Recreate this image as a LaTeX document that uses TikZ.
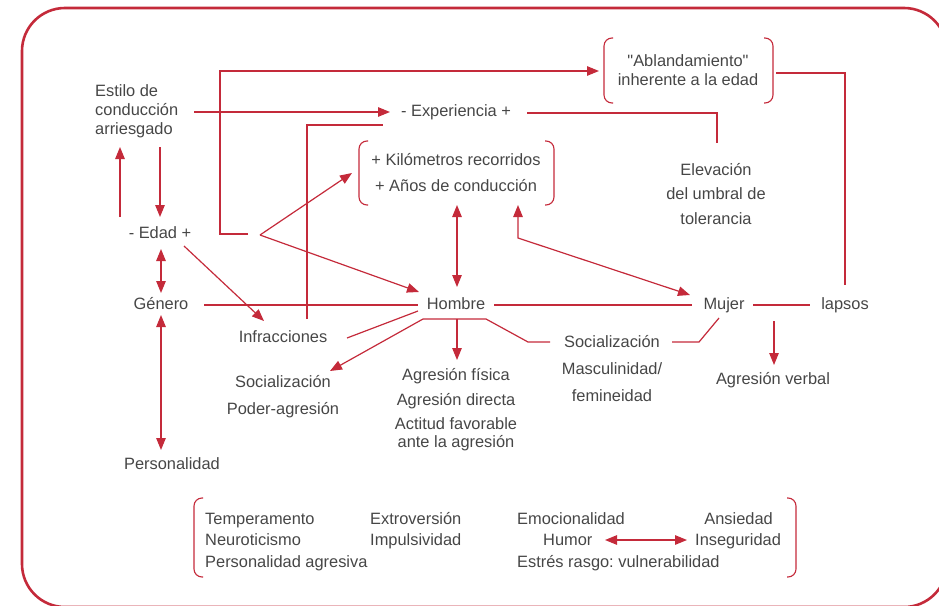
\documentclass[tikz,border=0pt]{standalone}
\usepackage{fontspec}
\setmainfont{Liberation Sans}[Ligatures=TeXOff]
\usetikzlibrary{arrows.meta}
\definecolor{frred}{RGB}{196,42,58}
\definecolor{txt}{RGB}{70,70,70}
\frenchspacing
\begin{document}
\begin{tikzpicture}[x=1pt,y=-1pt,
  lbl/.style={text=txt,font=\fontsize{16.4}{19}\selectfont,inner sep=0pt,align=center},
  one/.style={lbl,text height=12pt,text depth=1.5pt},
  conn/.style={draw=frred,line width=1.2pt},
  arr/.style={conn,-{Triangle[length=12pt,width=9.5pt]}},
  darr/.style={conn,{Triangle[length=12pt,width=9.5pt]}-{Triangle[length=12pt,width=9.5pt]}},
  brk/.style={draw=frred,line width=1.1pt,rounded corners=8pt},
  frame/.style={draw=frred,line width=2.6pt,rounded corners=43pt}]
\useasboundingbox (0,0) rectangle (939,605);
\draw[frame] (22,8) rectangle (947,607);

% ---------- nodes ----------
\node[lbl,anchor=west,align=left] (estilo) at (95,111) {Estilo de\\conducción\\arriesgado};
\node[one] (edad) at (160,233) {- Edad +};
\node[one] (genero) at (161,304) {Género};
\node[one] (personalidad) at (172,464) {Personalidad};
\node[one] (infracciones) at (283,337) {Infracciones};
\node[lbl,font=\fontsize{16.4}{27}\selectfont] (soc1) at (283,397) {Socialización\\Poder-agresión};
\node[one] (hombre) at (456,304) {Hombre};
\node[lbl,font=\fontsize{16.4}{24.5}\selectfont] (agres) at (456,410) {Agresión física\\Agresión directa\\Actitud favorable\\[-6.5pt]ante la agresión};
\node[lbl,font=\fontsize{16.4}{27}\selectfont] (soc2) at (612,369) {Socialización\\Masculinidad/\\femineidad};
\node[one] (mujer) at (724,304) {Mujer};
\node[one] (lapsos) at (845,304) {lapsos};
\node[one] (verbal) at (773,379) {Agresión verbal};
\node[one] (exper) at (456,111) {- Experiencia +};
\node[lbl,font=\fontsize{16.4}{26}\selectfont] (km) at (456,173) {+ Kilómetros recorridos\\+ Años de conducción};
\node[lbl] (abland) at (688,70) {"Ablandamiento"\\inherente a la edad};
\node[lbl,font=\fontsize{16.4}{24.5}\selectfont] (elev) at (716,194) {Elevación\\del umbral de\\tolerancia};

\node[one,anchor=west] (temp) at (205,519) {Temperamento};
\node[one,anchor=west] (extro) at (370,519) {Extroversión};
\node[one,anchor=west] (emoc) at (517,519) {Emocionalidad};
\node[one,anchor=east] (ansie) at (773,519) {Ansiedad};
\node[one,anchor=west] (neuro) at (205,540) {Neuroticismo};
\node[one,anchor=west] (impul) at (370,540) {Impulsividad};
\node[one,anchor=west] (humor) at (543,540) {Humor};
\node[one,anchor=west] (insegu) at (695,540) {Inseguridad};
\node[one,anchor=west] (persag) at (205,562) {Personalidad agresiva};
\node[one,anchor=west] (estres) at (517,562) {Estrés rasgo: vulnerabilidad};

% ---------- connector end points ----------
\coordinate (estiloS1) at (160,147);  \coordinate (edadN1) at (160,217);
\coordinate (edadN2) at (120,217);    \coordinate (estiloS2) at (120,147);
\coordinate (estiloE) at (194,112);   \coordinate (experW) at (390,112);
\coordinate (edadE) at (248,234);     \coordinate (ablandW) at (599,71);
\coordinate (fork) at (260,235);      \coordinate (kmW) at (352,173);
\coordinate (hombreNW) at (419,292);
\coordinate (edadS) at (161,249);     \coordinate (generoN) at (161,293);
\coordinate (edadSE) at (184,246);    \coordinate (infraN) at (264,321);
\coordinate (generoE) at (204,305);   \coordinate (hombreW) at (418,305);
\coordinate (hombreE) at (494,305);   \coordinate (mujerW) at (692,305);
\coordinate (mujerE) at (753,305);    \coordinate (lapsosW) at (810,305);
\coordinate (infraT) at (307,319);    \coordinate (experSW) at (383,125);
\coordinate (experE) at (527,113);    \coordinate (elevN) at (717,143);
\coordinate (ablandE) at (776,73);    \coordinate (lapsosN) at (845,285);
\coordinate (kmS) at (457,205);       \coordinate (hombreN) at (457,287);
\coordinate (kmS2) at (518,205);      \coordinate (mujerNW) at (690,295);
\coordinate (infraE) at (347,338);    \coordinate (hombreW2) at (418,311);
\coordinate (hombreSW) at (423,319);  \coordinate (hombreSE) at (486,319);
\coordinate (hombreS) at (457,319);   \coordinate (soc1N) at (330,371);
\coordinate (agresN) at (457,360);    \coordinate (soc2W) at (550,342);
\coordinate (soc2E) at (672,342);     \coordinate (mujerS) at (719,318);
\coordinate (mujerSE) at (774,321);   \coordinate (verbalN) at (774,365);
\coordinate (generoS) at (161,315);   \coordinate (persN) at (161,450);
\coordinate (humorE) at (605,540);    \coordinate (inseguW) at (687,540);

% ---------- connectors ----------
\draw[arr] (estiloS1) -- (edadN1);
\draw[arr] (edadN2) -- (estiloS2);
\draw[arr] (estiloE) -- (experW);
\draw[arr] (edadE) -- (220,234) -- (220,71) -- (ablandW);
\draw[arr] (fork) -- (kmW);
\draw[arr] (fork) -- (hombreNW);
\draw[darr] (edadS) -- (generoN);
\draw[arr] (edadSE) -- (infraN);
\draw[conn] (generoE) -- (hombreW);
\draw[conn] (hombreE) -- (mujerW);
\draw[conn] (mujerE) -- (lapsosW);
\draw[conn] (infraT) -- (307,125) -- (experSW);
\draw[conn] (experE) -- (717,113) -- (elevN);
\draw[conn] (ablandE) -- (845,73) -- (lapsosN);
\draw[darr] (kmS) -- (hombreN);
\draw[darr] (kmS2) -- (518,238) -- (mujerNW);
\draw[conn] (infraE) -- (hombreW2);
\draw[conn] (hombreSW) -- (hombreSE) -- (528,342) -- (soc2W);
\draw[arr] (hombreSW) -- (soc1N);
\draw[arr] (hombreS) -- (agresN);
\draw[conn] (soc2E) -- (699,342) -- (mujerS);
\draw[arr] (mujerSE) -- (verbalN);
\draw[darr] (generoS) -- (persN);
\draw[darr] (humorE) -- (inseguW);

% ---------- brackets ----------
\draw[brk] (368,141) -- (359,141) -- (359,205) -- (368,205);
\draw[brk] (545,141) -- (554,141) -- (554,205) -- (545,205);
\draw[brk] (613,38) -- (604,38) -- (604,103) -- (613,103);
\draw[brk] (764,38) -- (773,38) -- (773,103) -- (764,103);
\draw[brk] (203,498) -- (194,498) -- (194,577) -- (203,577);
\draw[brk] (787,498) -- (796,498) -- (796,577) -- (787,577);
\end{tikzpicture}
\end{document}
